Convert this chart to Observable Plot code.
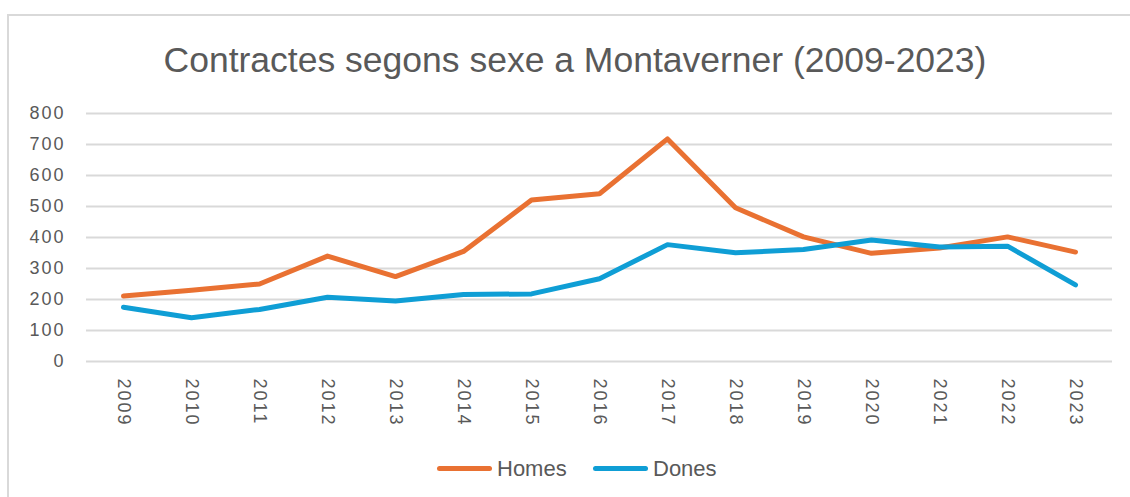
<!DOCTYPE html>
<html><head><meta charset="utf-8">
<script src="https://cdn.jsdelivr.net/npm/d3@7"></script>
<script src="https://cdn.jsdelivr.net/npm/@observablehq/plot@0.6"></script>
<style>
body{margin:0;background:#fff;font-family:"Liberation Sans",Arial,sans-serif;}
#wrap{position:relative;width:1130px;height:497px;overflow:hidden;}
#frame{position:absolute;left:7px;top:14px;width:1200px;height:600px;border-left:2px solid #d9d9d9;border-top:2px solid #d9d9d9;pointer-events:none;box-sizing:border-box;}
#title{height:100px;position:relative;}
#title span{position:absolute;left:0;width:1150px;text-align:center;top:40px;font-size:35.5px;line-height:40px;color:#595959;white-space:nowrap;}
#chart svg{display:block;}
#chart text{letter-spacing:2px;}
#legend{position:relative;height:57px;}
.item{position:absolute;top:13px;display:flex;align-items:center;height:30px;}
.sw{width:55px;height:5px;border-radius:3px;margin-right:5px;}
.lab{font-size:22px;color:#595959;line-height:25px;}
</style>
</head><body>
<div id="wrap">
  <div id="title"><span>Contractes segons sexe a Montaverner (2009-2023)</span></div>
  <div id="chart"></div>
  <div id="legend"></div>
  <div id="frame"></div>
</div>
<script>
const years = ["2009","2010","2011","2012","2013","2014","2015","2016","2017","2018","2019","2020","2021","2022","2023"];
const homes = [211, 230, 250, 340, 274, 355, 521, 541, 718, 496, 402, 349, 366, 402, 353];
const dones = [175, 141, 168, 207, 195, 216, 218, 267, 377, 351, 361, 392, 369, 372, 247];
const seriesNames = ["Homes", "Dones"];
const seriesColors = ["#E97132", "#0F9ED5"];
const yTicks = [0, 100, 200, 300, 400, 500, 600, 700, 800];

const data = years.flatMap((y, i) => [
  {year: y, value: homes[i], series: "Homes"},
  {year: y, value: dones[i], series: "Dones"}
]);

const chart = Plot.plot({
  width: 1130,
  height: 340,
  marginLeft: 86,
  marginRight: 18,
  marginTop: 13,
  marginBottom: 79,
  style: {fontFamily: "'Liberation Sans', Arial, sans-serif", fontSize: "18px", color: "#595959", background: "transparent", overflow: "visible"},
  x: {type: "point", domain: years, padding: 0.5, label: null},
  y: {domain: [0, 800], label: null},
  color: {domain: seriesNames, range: seriesColors},
  marks: [
    Plot.gridY(yTicks, {stroke: "#d9d9d9", strokeOpacity: 1, strokeWidth: 2}),
    Plot.axisY(yTicks, {tickSize: 0, tickPadding: 21, label: null, fill: "#595959"}),
    Plot.axisX(years, {tickSize: 0, tickPadding: 17, tickRotate: 90, label: null, fill: "#595959"}),
    Plot.line(data, {x: "year", y: "value", stroke: "series", strokeWidth: 5, strokeLinecap: "round", strokeLinejoin: "round"})
  ]
});
document.getElementById("chart").appendChild(chart);

const legend = document.getElementById("legend");
const lefts = [437, 593];
seriesNames.forEach((name, i) => {
  const item = document.createElement("div");
  item.className = "item";
  item.style.left = lefts[i] + "px";
  const sw = document.createElement("div");
  sw.className = "sw";
  sw.style.background = seriesColors[i];
  const lab = document.createElement("span");
  lab.className = "lab";
  lab.textContent = name;
  item.appendChild(sw);
  item.appendChild(lab);
  legend.appendChild(item);
});
</script>
</body></html>
